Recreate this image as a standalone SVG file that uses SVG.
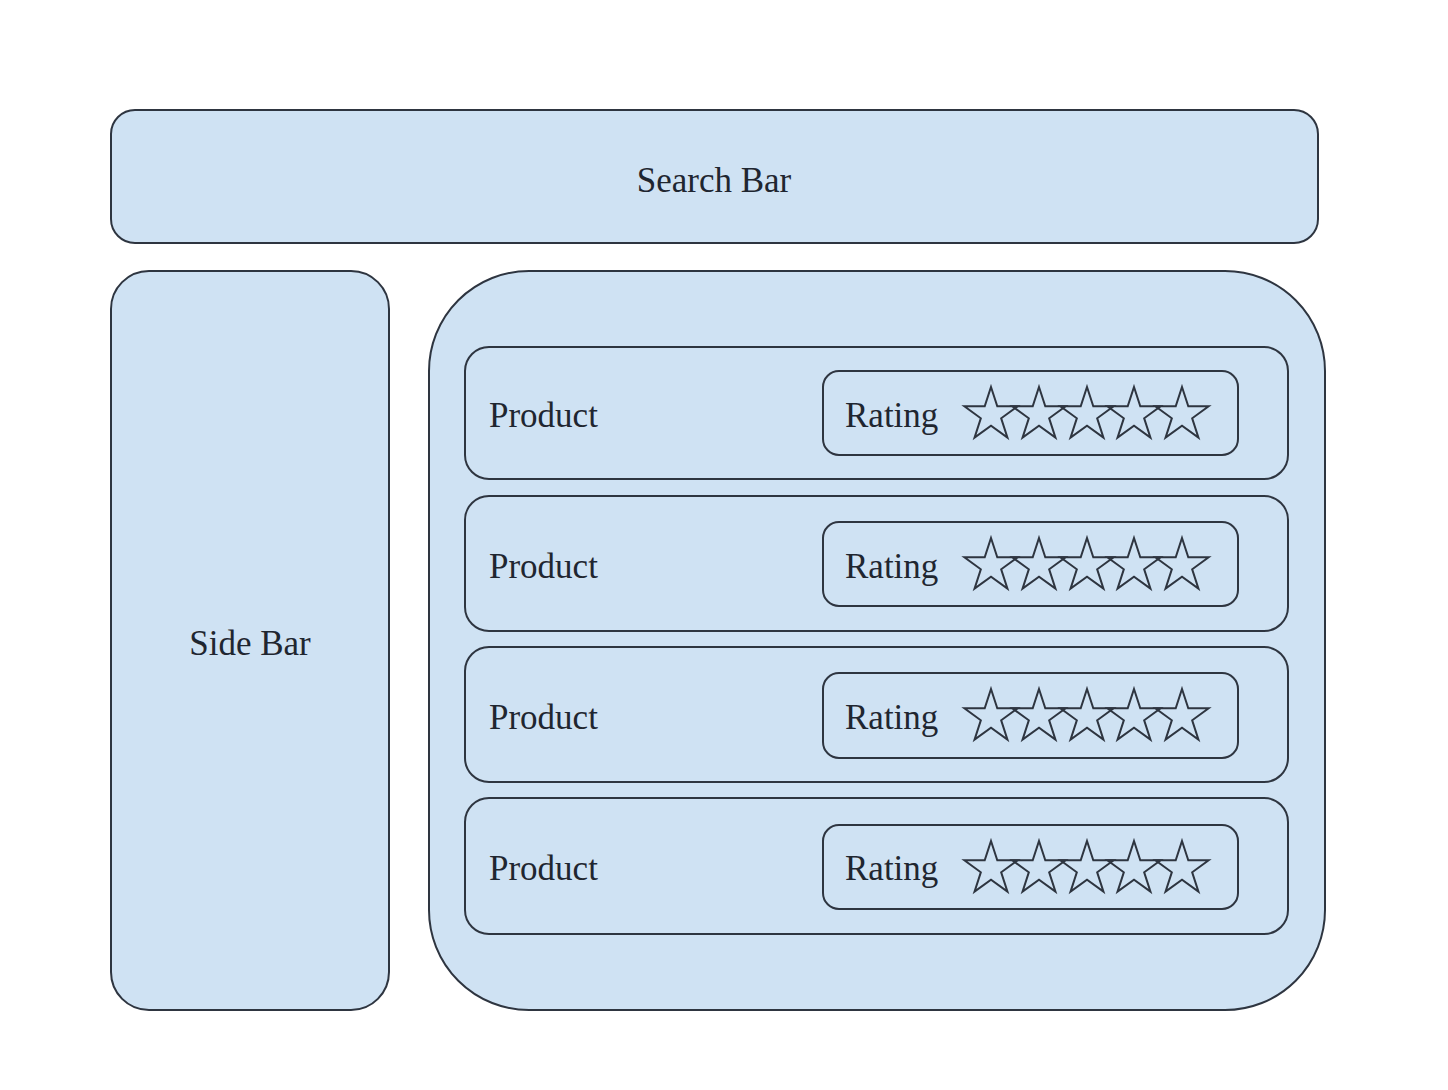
<svg xmlns="http://www.w3.org/2000/svg" xmlns:xlink="http://www.w3.org/1999/xlink" width="1448" height="1090" viewBox="0 0 1448 1090">
<style>
.box{fill:#cfe2f3;stroke:#2e3540;stroke-width:2}
.lbl{font-family:"Liberation Serif",serif;font-size:35px;fill:#1f2630}
.star{fill:none;stroke:#2e3540;stroke-width:2;stroke-linejoin:miter}
</style>
<defs>
<path id="star" class="star" d="M0,-28 L6.29,-8.66 L26.63,-8.65 L10.18,3.31 L16.46,22.65 L0,10.7 L-16.46,22.65 L-10.18,3.31 L-26.63,-8.65 L-6.29,-8.66 Z"/>
<g id="stars">
<use xlink:href="#star" x="991" y="0"/>
<use xlink:href="#star" x="1039" y="0"/>
<use xlink:href="#star" x="1087" y="0"/>
<use xlink:href="#star" x="1134" y="0"/>
<use xlink:href="#star" x="1182" y="0"/>
</g>
</defs>
<rect width="1448" height="1090" fill="#ffffff"/>
<g id="search-bar">
<rect class="box" x="111" y="110" width="1207" height="133" rx="24"/>
<text class="lbl" x="714" y="192" text-anchor="middle">Search Bar</text>
</g>
<g id="side-bar">
<rect class="box" x="111" y="271" width="278" height="739" rx="38"/>
<text class="lbl" x="250" y="655" text-anchor="middle">Side Bar</text>
</g>
<g id="product-list">
<rect class="box" x="429" y="271" width="896" height="739" rx="100"/>
</g>
<g id="product-1">
<rect class="box" x="465" y="347" width="823" height="132" rx="24"/>
<text class="lbl" x="489" y="427">Product</text>
</g>
<g id="rating-1">
<rect class="box" x="823" y="371" width="415" height="84" rx="16"/>
<text class="lbl" x="845" y="427">Rating</text>
<use xlink:href="#stars" y="415"/>
</g>
<g id="product-2">
<rect class="box" x="465" y="496" width="823" height="135" rx="24"/>
<text class="lbl" x="489" y="578">Product</text>
</g>
<g id="rating-2">
<rect class="box" x="823" y="522" width="415" height="84" rx="16"/>
<text class="lbl" x="845" y="578">Rating</text>
<use xlink:href="#stars" y="566"/>
</g>
<g id="product-3">
<rect class="box" x="465" y="647" width="823" height="135" rx="24"/>
<text class="lbl" x="489" y="729">Product</text>
</g>
<g id="rating-3">
<rect class="box" x="823" y="673" width="415" height="85" rx="16"/>
<text class="lbl" x="845" y="729">Rating</text>
<use xlink:href="#stars" y="717"/>
</g>
<g id="product-4">
<rect class="box" x="465" y="798" width="823" height="136" rx="24"/>
<text class="lbl" x="489" y="880">Product</text>
</g>
<g id="rating-4">
<rect class="box" x="823" y="825" width="415" height="84" rx="16"/>
<text class="lbl" x="845" y="880">Rating</text>
<use xlink:href="#stars" y="869"/>
</g>
<g id="connectors"></g>
</svg>
